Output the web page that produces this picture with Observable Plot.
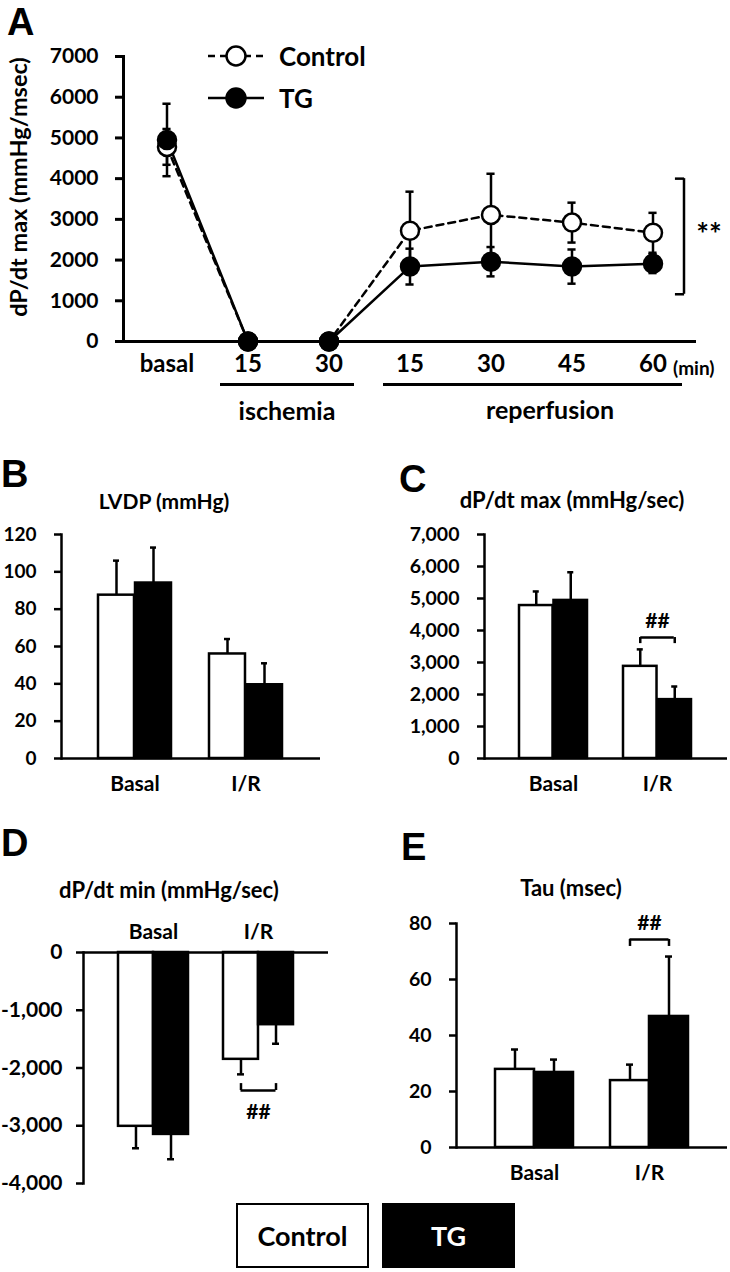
<!DOCTYPE html>
<html><head><meta charset="utf-8">
<script src="https://cdn.jsdelivr.net/npm/d3@7"></script>
<script src="https://cdn.jsdelivr.net/npm/@observablehq/plot@0.6"></script>
<style>
body{margin:0;background:#fff;}
#root{position:relative;width:730px;height:1272px;font-family:Lato,sans-serif;font-weight:bold;color:#000;overflow:hidden;background:#fff}
.abs{position:absolute;white-space:nowrap;line-height:1}
.letter{font-family:"Liberation Sans",Arial,sans-serif;font-weight:bold;font-size:38px}
.ctr{transform:translate(-50%,-50%)}
.panel{position:absolute}
.panel svg{overflow:visible}
</style></head><body><div id="root"></div>
<script>
// ---------- Panel A data (dP/dt max time course) ----------
const timeKeys   = ["basal","i15","i30","r15","r30","r45","r60"];
const timeLabels = ["basal","15","30","15","30","45","60"];
const ctrlMean = [4780, 0, 0, 2720, 3110, 2920, 2670];
const ctrlSD   = [440,  0, 0, 960, 1010, 490, 490];
const tgMean   = [4950, 0, 0, 1840, 1960, 1840, 1910];
const tgSD     = [890,  0, 0, 440, 360, 420, 230];
const yTicksA  = [0,1000,2000,3000,4000,5000,6000,7000];

// ---------- Bar panels ----------
const groups = ["Basal","I/R"];
const lvdpCtrl = [87.5, 56],   lvdpCtrlErr = [18.5, 8];
const lvdpTG   = [94, 39.5],   lvdpTGErr   = [19, 11.5];
const maxCtrl  = [4780, 2880], maxCtrlErr  = [440, 530];
const maxTG    = [4940, 1840], maxTGErr    = [880, 410];
const minCtrl  = [-3010, -1850], minCtrlErr = [380, 260];
const minTG    = [-3150, -1250], minTGErr   = [430, 330];
const tauCtrl  = [27.9, 23.9], tauCtrlErr  = [7.1, 5.7];
const tauTG    = [26.8, 46.8], tauTGErr    = [4.6, 21.4];

const root = document.getElementById("root");
const baseStyle = {fontFamily:"Lato, sans-serif", fontWeight:"bold", background:"transparent", overflow:"visible", color:"black"};
function place(el, left, top){ const d=document.createElement("div"); d.className="panel"; d.style.left=left+"px"; d.style.top=top+"px"; d.appendChild(el); root.appendChild(d); }
function text(t, x, y, size, cls="", extra=""){ const d=document.createElement("div"); d.className="abs "+cls; d.textContent=t; d.style.left=x+"px"; d.style.top=y+"px"; if(size) d.style.fontSize=size+"px"; if(extra) d.style.cssText+=extra; root.appendChild(d); return d; }

// ---------- Panel A ----------
const aData = timeKeys.map((k,i)=>({k, c:ctrlMean[i], cs:ctrlSD[i], t:tgMean[i], ts:tgSD[i]}));
const aErrC = aData.filter(d=>d.cs>0), aErrT = aData.filter(d=>d.ts>0);
const bwA = (730-123-34)/timeKeys.length;
const capA = {insetLeft: bwA/2-4.5, insetRight: bwA/2-4.5};
const sigA = [{k:"r60", y1:4000, y2:1160, ty:2600}];
const plotA = Plot.plot({
  width:730, height:420, marginLeft:123, marginRight:34, marginTop:56, marginBottom:79,
  style: baseStyle,
  x:{type:"band", domain:timeKeys, padding:0},
  y:{domain:[0,7000]},
  marks:[
    Plot.frame({anchor:"left", strokeWidth:3}),
    Plot.ruleX(aErrC, {x:"k", y1:d=>d.c-d.cs, y2:d=>d.c+d.cs, strokeWidth:2.5}),
    Plot.tickY(aErrC, {x:"k", y:d=>d.c+d.cs, strokeWidth:2.5, ...capA}),
    Plot.tickY(aErrC, {x:"k", y:d=>d.c-d.cs, strokeWidth:2.5, ...capA}),
    Plot.ruleX(aErrT, {x:"k", y1:d=>d.t-d.ts, y2:d=>d.t+d.ts, strokeWidth:2.5}),
    Plot.tickY(aErrT, {x:"k", y:d=>d.t+d.ts, strokeWidth:2.5, ...capA}),
    Plot.tickY(aErrT, {x:"k", y:d=>d.t-d.ts, strokeWidth:2.5, ...capA}),
    Plot.line(aData, {x:"k", y:"c", stroke:"black", strokeWidth:2.5, strokeDasharray:"7,5"}),
    Plot.line(aData, {x:"k", y:"t", stroke:"black", strokeWidth:2.5}),
    Plot.ruleY([0], {strokeWidth:3}),
    Plot.dot(aData, {x:"k", y:"c", r:9, fill:"white", stroke:"black", strokeWidth:2.5}),
    Plot.dot(aData, {x:"k", y:"t", r:9, fill:"black", stroke:"black", strokeWidth:2.5}),
    Plot.axisY({ticks:yTicksA, tickFormat:d=>String(d), tickSize:8, tickPadding:17, fontSize:21, strokeWidth:3, label:null}),
    Plot.axisX({tickFormat:k=>timeLabels[timeKeys.indexOf(k)], tickSize:0, tickPadding:13, fontSize:24, label:null}),
    Plot.ruleX(sigA, {x:"k", y1:"y1", y2:"y2", dx:31, strokeWidth:2.5}),
    Plot.tickY(sigA, {x:"k", y:"y1", insetLeft:bwA/2+22, insetRight:bwA/2-32, strokeWidth:2.5}),
    Plot.tickY(sigA, {x:"k", y:"y2", insetLeft:bwA/2+22, insetRight:bwA/2-32, strokeWidth:2.5}),
    Plot.text(sigA, {x:"k", y:"ty", text:()=>"**", dx:56, fontSize:30})
  ]
});
place(plotA, 0, 0);
text("A", 7, 3, null, "letter");
text("dP/dt max (mmHg/msec)", 19, 187, 23.5, "", "transform:translate(-50%,-50%) rotate(-90deg)");
text("(min)", 673, 358, 19);
text("ischemia", 287, 410, 25, "ctr");
text("reperfusion", 550, 409, 25, "ctr");
const line1=document.createElement("div"); line1.className="abs"; line1.style.cssText="left:220px;top:383px;width:134px;height:3px;background:#000"; root.appendChild(line1);
const line2=document.createElement("div"); line2.className="abs"; line2.style.cssText="left:383px;top:383px;width:299px;height:3px;background:#000"; root.appendChild(line2);
// inline legend A
const legA = document.createElement("div"); legA.className="abs"; legA.style.left="200px"; legA.style.top="40px";
legA.innerHTML = `<svg width="80" height="80" style="overflow:visible">
<line x1="8" y1="16" x2="64" y2="16" stroke="#000" stroke-width="2.5" stroke-dasharray="7,5"/>
<circle cx="36" cy="16" r="9.5" fill="#fff" stroke="#000" stroke-width="2.5"/>
<line x1="8" y1="58" x2="64" y2="58" stroke="#000" stroke-width="2.5"/>
<circle cx="36" cy="58" r="9.5" fill="#000" stroke="#000" stroke-width="2.5"/></svg>`;
root.appendChild(legA);
text("Control", 279, 56, 26, "", "transform:translateY(-50%)");
text("TG", 279, 98, 26, "", "transform:translateY(-50%)");

// ---------- Bar panel helper ----------
function barPanel(o){
  const data = groups.map((g,i)=>({g, c:o.ctrl[i], ce:o.ctrlErr[i], t:o.tg[i], te:o.tgErr[i]}));
  const rangeLen = o.width - o.marginLeft - o.marginRight;
  const step = rangeLen/(groups.length - o.pi + 2*o.po);
  const bw = step*(1-o.pi), q = bw/4, h = bw/2, cap = 3.5;
  const sgn = o.neg ? -1 : 1;
  const marks = [
    Plot.barY(data, {x:"g", y:"c", fill:"white", stroke:"black", strokeWidth:2.5, insetRight:h}),
    Plot.barY(data, {x:"g", y:"t", fill:"black", stroke:"black", strokeWidth:2.5, insetLeft:h}),
    Plot.ruleX(data, {x:"g", y1:"c", y2:d=>d.c+sgn*d.ce, dx:-q, strokeWidth:2.5}),
    Plot.tickY(data, {x:"g", y:d=>d.c+sgn*d.ce, insetLeft:q-cap, insetRight:bw-q-cap, strokeWidth:2.5}),
    Plot.ruleX(data, {x:"g", y1:"t", y2:d=>d.t+sgn*d.te, dx:q, strokeWidth:2.5}),
    Plot.tickY(data, {x:"g", y:d=>d.t+sgn*d.te, insetLeft:3*q-cap, insetRight:q-cap, strokeWidth:2.5}),
    Plot.frame({anchor:"left", strokeWidth:2.5}),
    Plot.ruleY([0], {strokeWidth:2.5}),
    Plot.axisY({ticks:o.ticks, tickFormat:d=>d.toLocaleString("en-US"), tickSize:7, tickPadding:o.tickPadding, fontSize:o.tickFont, strokeWidth:2.5, label:null}),
    Plot.axisX({anchor:o.neg?"top":"bottom", tickSize:0, tickPadding:o.xPad, fontSize:21, label:null})
  ];
  if (o.sig) {
    const s = [o.sig];
    marks.push(
      Plot.tickY(s, {x:"g", y:"y", insetLeft:q, insetRight:q, strokeWidth:2.5}),
      Plot.ruleX(s, {x:"g", y1:"y", y2:"y2", dx:-q, strokeWidth:2.5}),
      Plot.ruleX(s, {x:"g", y1:"y", y2:"y2", dx:q, strokeWidth:2.5}),
      Plot.text(s, {x:"g", y:"ty", text:()=>"##", fontSize:21})
    );
  }
  const p = Plot.plot({
    width:o.width, height:o.height, marginLeft:o.marginLeft, marginRight:o.marginRight,
    marginTop:o.marginTop, marginBottom:o.marginBottom, style:baseStyle,
    x:{type:"band", domain:groups, paddingInner:o.pi, paddingOuter:o.po},
    y:{domain:o.domain},
    marks
  });
  place(p, o.left, o.top);
}

// B
barPanel({ctrl:lvdpCtrl, ctrlErr:lvdpCtrlErr, tg:lvdpTG, tgErr:lvdpTGErr, domain:[0,120], ticks:[0,20,40,60,80,100,120],
  left:0, top:520, width:330, height:280, marginLeft:61, marginRight:10, marginTop:14, marginBottom:42,
  pi:0.339, po:0.326, tickPadding:18, tickFont:19, xPad:18});
text("B", 1, 455, null, "letter");
text("LVDP (mmHg)", 164, 500, 21, "ctr");

// C
barPanel({ctrl:maxCtrl, ctrlErr:maxCtrlErr, tg:maxTG, tgErr:maxTGErr, domain:[0,7000], ticks:[0,1000,2000,3000,4000,5000,6000,7000],
  left:365, top:520, width:365, height:280, marginLeft:119, marginRight:3, marginTop:14, marginBottom:42,
  pi:0.343, po:0.329, tickPadding:18, tickFont:19.5, xPad:18,
  sig:{g:"I/R", y:3780, y2:3590, ty:4300}});
text("C", 399, 460, null, "letter");
text("dP/dt max (mmHg/sec)", 572, 500, 22, "ctr");

// D
barPanel({ctrl:minCtrl, ctrlErr:minCtrlErr, tg:minTG, tgErr:minTGErr, domain:[-4000,0], ticks:[0,-1000,-2000,-3000,-4000], neg:true,
  left:0, top:900, width:365, height:300, marginLeft:83, marginRight:37, marginTop:52, marginBottom:17,
  pi:0.333, po:0.333, tickPadding:14, tickFont:21, xPad:14,
  sig:{g:"I/R", y:-2390, y2:-2270, ty:-2760}});
text("D", 1, 824, null, "letter");
text("dP/dt min (mmHg/sec)", 169, 890, 22, "ctr");

// E
barPanel({ctrl:tauCtrl, ctrlErr:tauCtrlErr, tg:tauTG, tgErr:tauTGErr, domain:[0,80], ticks:[0,20,40,60,80],
  left:365, top:900, width:365, height:300, marginLeft:91, marginRight:3, marginTop:23, marginBottom:53,
  pi:0.322, po:0.339, tickPadding:18, tickFont:19.5, xPad:18,
  sig:{g:"I/R", y:74.3, y2:71.8, ty:80}});
text("E", 401, 828, null, "letter");
text("Tau (msec)", 571, 888, 22, "ctr");

// ---------- bottom legend ----------
const boxC = document.createElement("div"); boxC.className="abs";
boxC.style.cssText = "left:236px;top:1203px;width:133px;height:65px;box-sizing:border-box;border:2.5px solid #000;background:#fff;display:flex;align-items:center;justify-content:center;font-size:27px;";
boxC.textContent = "Control"; root.appendChild(boxC);
const boxT = document.createElement("div"); boxT.className="abs";
boxT.style.cssText = "left:382px;top:1203px;width:133px;height:65px;box-sizing:border-box;border:2.5px solid #000;background:#000;color:#fff;display:flex;align-items:center;justify-content:center;font-size:27px;";
boxT.textContent = "TG"; root.appendChild(boxT);
</script></body></html>
